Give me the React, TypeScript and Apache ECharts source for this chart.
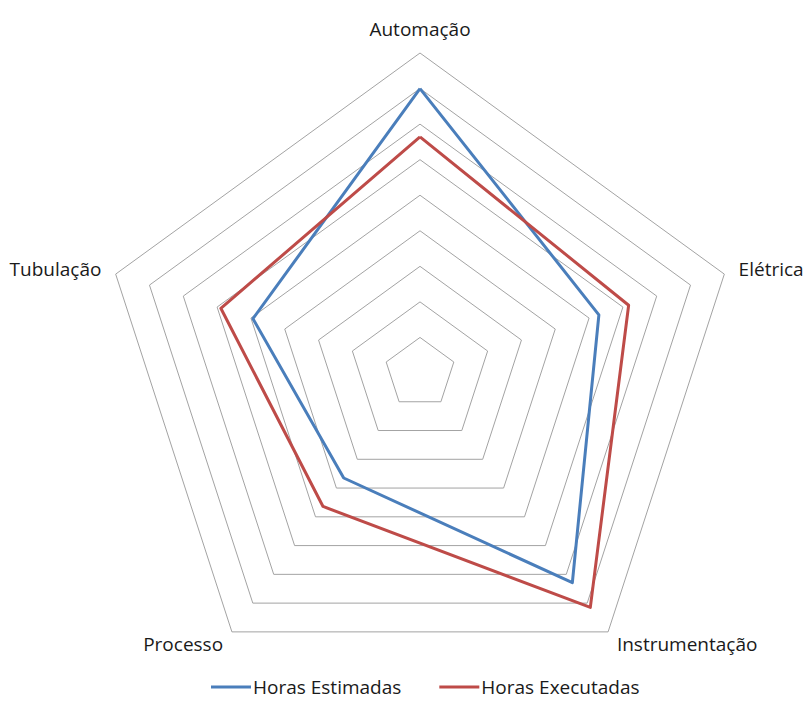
import React, { useEffect, useRef } from "react";
import * as echarts from "echarts";

// Indicators in ECharts order (counter-clockwise from top)
const indicators = ["Automação", "Tubulação", "Processo", "Instrumentação", "Elétrica"];
const maxValue = 900;
const seriesNames = ["Horas Estimadas", "Horas Executadas"];
const horasEstimadas = [800, 494, 365, 729, 529];
const horasExecutadas = [664, 589, 464, 815, 617];

const FONT = "'Open Sans', 'Noto Sans', sans-serif";

export default function App() {
  const ref = useRef<HTMLDivElement>(null);
  useEffect(() => {
    if (!ref.current) return;
    const chart = echarts.init(ref.current, undefined, { renderer: "svg" });
    chart.setOption({
      animation: false,
      backgroundColor: "#ffffff",
      legend: {
        data: seriesNames,
        left: 211,
        top: 677,
        padding: 0,
        itemWidth: 42,
        itemHeight: 3,
        itemGap: 38,
        icon: "path://M0,0 L40,0 L40,3 L0,3 Z",
        textStyle: {
          fontFamily: FONT,
          fontSize: 19,
          lineHeight: 20,
          color: "#1a1a1a",
          padding: [0, 0, 0, -4],
        },
      },
      radar: {
        center: [420, 373],
        radius: 320,
        startAngle: 90,
        splitNumber: 9,
        shape: "polygon",
        indicator: indicators.map((name) => ({ name, max: maxValue, min: 0 })),
        axisName: { color: "#1a1a1a", fontFamily: FONT, fontSize: 19 },
        nameGap: 15,
        axisLine: { show: false },
        axisTick: { show: false },
        axisLabel: { show: false },
        splitArea: { show: false },
        splitLine: { lineStyle: { color: "#a3a3a3", width: 1 } },
      },
      series: [
        {
          type: "radar",
          symbol: "none",
          data: [
            {
              name: seriesNames[0],
              value: horasEstimadas,
              lineStyle: { color: "#4a7ebb", width: 3 },
              itemStyle: { color: "#4a7ebb" },
            },
            {
              name: seriesNames[1],
              value: horasExecutadas,
              lineStyle: { color: "#be4b48", width: 3 },
              itemStyle: { color: "#be4b48" },
            },
          ],
        },
      ],
    });
    return () => chart.dispose();
  }, []);
  return (
    <div
      ref={ref}
      style={{ position: "fixed", left: 0, top: 0, width: 803, height: 701 }}
    />
  );
}
